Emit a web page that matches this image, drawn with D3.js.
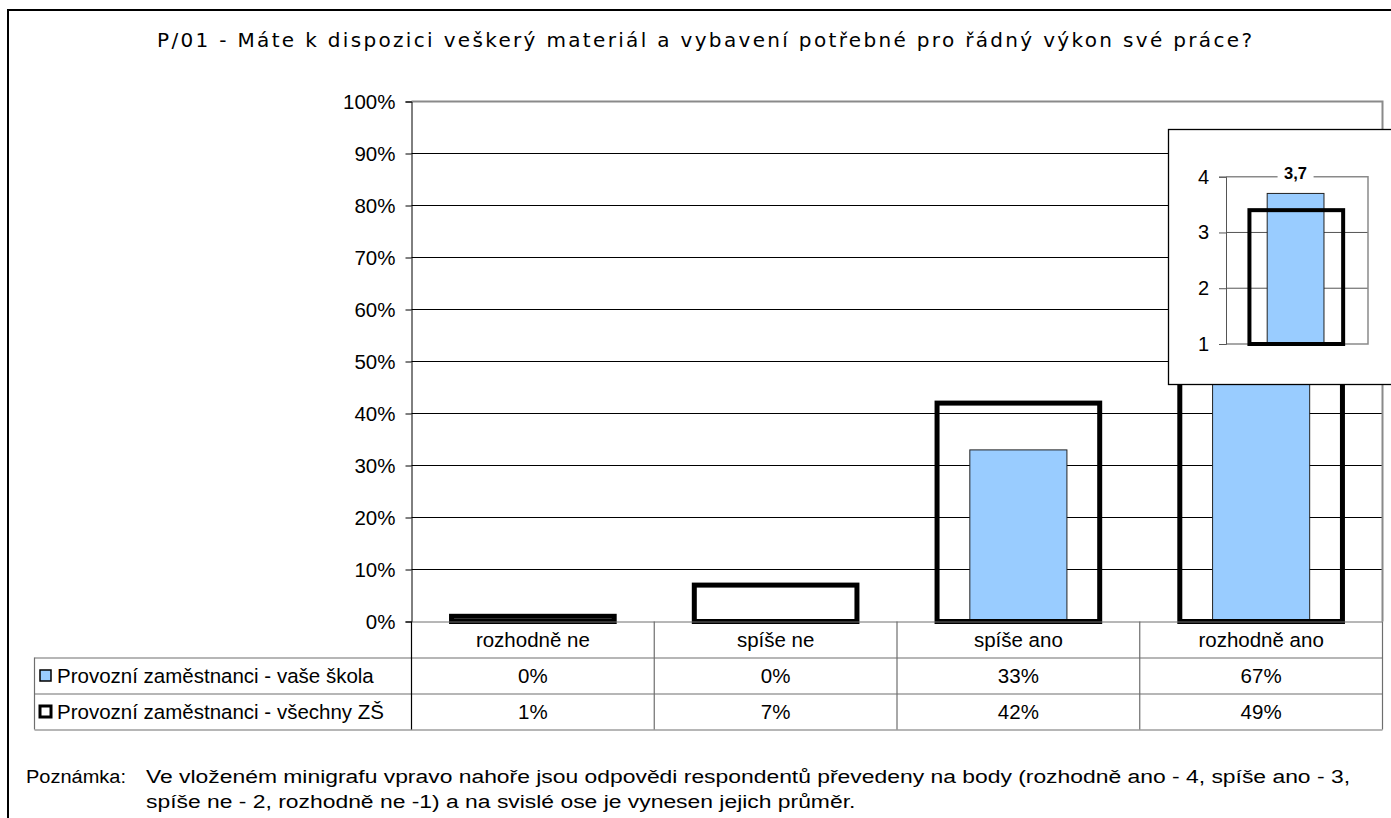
<!DOCTYPE html>
<html>
<head>
<meta charset="utf-8">
<script src="https://cdn.jsdelivr.net/npm/d3@7"></script>
<style>
  html, body { margin: 0; padding: 0; background: #fff; }
  svg { display: block; font-family: "Liberation Sans", Arial, sans-serif; }
</style>
</head>
<body>
<svg id="chart" width="1391" height="818"></svg>
<script>
// Answer categories and the two compared series (percent of respondents)
const categories = ["rozhodně ne", "spíše ne", "spíše ano", "rozhodně ano"];
const seriesNames = ["Provozní zaměstnanci - vaše škola", "Provozní zaměstnanci - všechny ZŠ"];
const schoolValues = [0, 0, 33, 67];
const allValues = [1, 7, 42, 49];
const yTicks = [0, 10, 20, 30, 40, 50, 60, 70, 80, 90, 100];

// Mini chart: average score (rozhodně ano = 4 ... rozhodně ne = 1)
const meanSchool = 3.7;
const meanAll = 3.4;
const meanTicks = [1, 2, 3, 4];

const titleText = "P/01 - Máte k dispozici veškerý materiál a vybavení potřebné pro řádný výkon své práce?";
const noteLabel = "Poznámka:";
const noteLines = [
  "Ve vloženém minigrafu vpravo nahoře jsou odpovědi respondentů převedeny na body (rozhodně ano - 4, spíše ano - 3,",
  "spíše ne - 2, rozhodně ne -1) a na svislé ose je vynesen jejich průměr."
];

const svg = d3.select("#chart");
const BLUE = "#99CCFF";
const GRID = "#000";
const TABLE = "#6e6e6e";
const FS = 20.5;

// outer frame
svg.append("rect").attr("x", 8).attr("y", 10).attr("width", 1420).attr("height", 840)
  .attr("fill", "#fff").attr("stroke", "#000").attr("stroke-width", 2);

// title
svg.append("text").attr("x", 704.5).attr("y", 47).attr("text-anchor", "middle")
  .attr("font-family", "DejaVu Sans, Verdana, sans-serif")
  .attr("font-size", 20).attr("textLength", 1095).attr("lengthAdjust", "spacing")
  .text(titleText);

// scales
const pL = 411.5, pR = 1382.5, pT = 101.5, pB = 621.5;
const x = d3.scaleBand().domain(categories).range([pL, pR]).padding(0);
const y = d3.scaleLinear().domain([0, 100]).range([pB, pT]);

// gridlines
svg.append("g").selectAll("line").data(yTicks.filter(t => t > 0 && t < 100)).join("line")
  .attr("x1", pL).attr("x2", pR).attr("y1", d => y(d)).attr("y2", d => y(d))
  .attr("stroke", GRID).attr("stroke-width", 1);

// plot border (top and right) in gray
svg.append("path")
  .attr("d", `M${pL},${y(100)}H${pR}V${pB}`)
  .attr("fill", "none").attr("stroke", "#8a8a8a").attr("stroke-width", 2);

// y axis
const yAxis = d3.axisLeft(y).tickValues(yTicks).tickFormat(d => d + "%").tickSize(6).tickPadding(10);
const gy = svg.append("g").attr("transform", `translate(${pL},0)`).call(yAxis);
gy.attr("font-family", null).attr("font-size", null);
gy.select(".domain").attr("stroke", "#000");
gy.selectAll(".tick line").attr("stroke", "#000");
gy.selectAll(".tick text").attr("font-size", FS).attr("fill", "#000");

// school bars (blue)
const bw = x.bandwidth();
svg.append("g").selectAll("rect").data(categories).join("rect")
  .attr("x", d => x(d) + bw * 0.30)
  .attr("width", bw * 0.40)
  .attr("y", (d, i) => y(schoolValues[i]))
  .attr("height", (d, i) => y(0) - y(schoolValues[i]))
  .attr("fill", BLUE).attr("stroke", "#222").attr("stroke-width", 1)
  .attr("display", (d, i) => schoolValues[i] > 0 ? null : "none");

// all-schools bars (thick outline)
svg.append("g").selectAll("rect").data(categories).join("rect")
  .attr("x", d => x(d) + bw * 0.165)
  .attr("width", bw * 0.67)
  .attr("y", (d, i) => y(allValues[i]))
  .attr("height", (d, i) => y(0) - y(allValues[i]))
  .attr("fill", "none").attr("stroke", "#000").attr("stroke-width", 5);

// data table
const rowH = 36;
const rows = [pB, pB + rowH, pB + 2 * rowH, pB + 3 * rowH];
const tbl = svg.append("g");
// horizontal rules
tbl.append("line").attr("x1", pL).attr("x2", pR).attr("y1", rows[0] + 0.5).attr("y2", rows[0] + 0.5)
  .attr("stroke", TABLE);
[rows[1], rows[2], rows[3]].forEach(r => {
  tbl.append("line").attr("x1", 34.5).attr("x2", pR).attr("y1", r + 0.5).attr("y2", r + 0.5)
    .attr("stroke", TABLE).attr("stroke-width", 1.2);
});
// vertical rules
const bounds = categories.map(c => x(c)).concat([pR]);
bounds.forEach((b, i) => {
  tbl.append("line").attr("x1", b).attr("x2", b).attr("y1", rows[0]).attr("y2", rows[3])
    .attr("stroke", i === 0 ? "#000" : TABLE).attr("stroke-width", 1.2);
});
tbl.append("line").attr("x1", 34.5).attr("x2", 34.5).attr("y1", rows[1]).attr("y2", rows[3])
  .attr("stroke", TABLE).attr("stroke-width", 1.2);

// category labels
tbl.selectAll("text.cat").data(categories).join("text").attr("class", "cat")
  .attr("x", d => x(d) + bw / 2).attr("y", rows[0] + 25).attr("text-anchor", "middle")
  .attr("font-size", FS).text(d => d);
// value rows
[schoolValues, allValues].forEach((vals, r) => {
  tbl.selectAll("text.v" + r).data(categories).join("text").attr("class", "v" + r)
    .attr("x", d => x(d) + bw / 2).attr("y", rows[r + 1] + 25).attr("text-anchor", "middle")
    .attr("font-size", FS).text((d, i) => vals[i] + "%");
});
// legend keys and series names
seriesNames.forEach((name, r) => {
  const cy = rows[r + 1] + rowH / 2;
  tbl.append("rect").attr("x", 40).attr("y", cy - 5.5).attr("width", 11).attr("height", 11)
    .attr("fill", r === 0 ? BLUE : "#fff").attr("stroke", "#000").attr("stroke-width", r === 0 ? 1.5 : 3);
  tbl.append("text").attr("x", 57).attr("y", rows[r + 1] + 25).attr("font-size", FS).text(name);
});

// inset mini chart with the average score
const inset = svg.append("g");
inset.append("rect").attr("x", 1168.5).attr("y", 129.5).attr("width", 260).attr("height", 255)
  .attr("fill", "#fff").attr("stroke", "#000").attr("stroke-width", 1.3);
const iL = 1226, iR = 1368, iT = 176.7, iB = 344;
const iy = d3.scaleLinear().domain([1, 4]).range([iB, iT]);
const ix = d3.scaleBand().domain(["průměr"]).range([iL, iR]);
const ibw = ix.bandwidth();
// gridlines
inset.selectAll("line.g").data([2, 3]).join("line").attr("class", "g")
  .attr("x1", iL).attr("x2", iR).attr("y1", d => iy(d)).attr("y2", d => iy(d))
  .attr("stroke", "#555").attr("stroke-width", 1);
// gray border
inset.append("path").attr("d", `M${iL},${iy(4)}H${iR}V${iy(1)}H${iL}`)
  .attr("fill", "none").attr("stroke", "#8a8a8a").attr("stroke-width", 1.5);
// axis
const iAxis = d3.axisLeft(iy).tickValues(meanTicks).tickFormat(d3.format("d")).tickSize(7).tickPadding(10);
const giy = inset.append("g").attr("transform", `translate(${iL},0)`).call(iAxis);
giy.attr("font-family", null).attr("font-size", null);
giy.select(".domain").attr("stroke", "#555");
giy.selectAll(".tick line").attr("stroke", "#555");
giy.selectAll(".tick text").attr("font-size", 20).attr("fill", "#000");
// bars
inset.append("rect").attr("x", ix("průměr") + ibw * 0.29).attr("width", ibw * 0.40)
  .attr("y", iy(meanSchool)).attr("height", iy(1) - iy(meanSchool))
  .attr("fill", BLUE).attr("stroke", "#222").attr("stroke-width", 1);
inset.append("rect").attr("x", ix("průměr") + ibw * 0.165).attr("width", ibw * 0.66)
  .attr("y", iy(meanAll)).attr("height", iy(1) - iy(meanAll))
  .attr("fill", "none").attr("stroke", "#000").attr("stroke-width", 4);
// value label
const lblX = ix("průměr") + ibw * 0.49;
inset.append("rect").attr("x", lblX - 18).attr("y", iy(4) - 8).attr("width", 36).attr("height", 12).attr("fill", "#fff");
inset.append("text").attr("x", lblX).attr("y", iy(meanSchool) - 14).attr("text-anchor", "middle")
  .attr("font-size", 16.5).attr("font-weight", "bold")
  .text(d3.format(".1f")(meanSchool).replace(".", ","));

// note
const note = svg.append("g");
const nl = note.append("text").attr("x", 26).attr("y", 783).attr("font-size", 18).text(noteLabel);
const n1 = note.append("text").attr("x", 146).attr("y", 783).attr("font-size", 18).text(noteLines[0]);
const n2 = note.append("text").attr("x", 146).attr("y", 808).attr("font-size", 18).text(noteLines[1]);
// fit the note lines to their column widths
const k = 1204 / n1.node().getComputedTextLength();
n1.attr("textLength", 1204).attr("lengthAdjust", "spacingAndGlyphs");
n2.attr("textLength", n2.node().getComputedTextLength() * k).attr("lengthAdjust", "spacingAndGlyphs");
nl.attr("textLength", 100).attr("lengthAdjust", "spacingAndGlyphs");
</script>
</body>
</html>
